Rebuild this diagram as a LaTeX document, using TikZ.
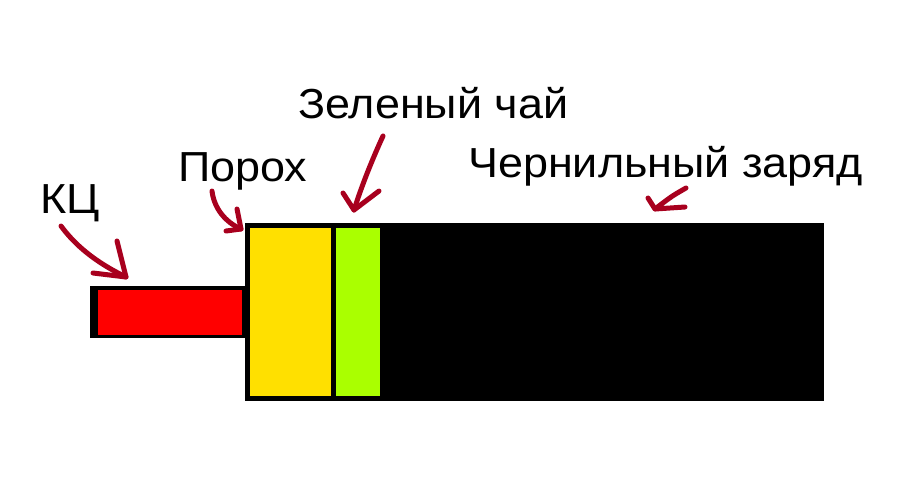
\documentclass[tikz,border=0pt]{standalone}
\usepackage{fontspec}
\setmainfont{Liberation Sans}[FakeStretch=1.07]
\definecolor{arrowred}{HTML}{A8001E}
\definecolor{rodred}{HTML}{FF0000}
\definecolor{powder}{HTML}{FFE000}
\definecolor{tea}{HTML}{AAFF00}
\begin{document}
\begin{tikzpicture}[x=1pt,y=-1pt,
  lbl/.style={anchor=base west,inner sep=0pt,font=\fontsize{42}{48}\selectfont},
  hand/.style={draw=arrowred,line width=5pt,line cap=round,line join=round}]
\useasboundingbox (0,0) rectangle (921,483);
% rod
\fill[black] (90,286) rectangle (247,338);
\fill[rodred] (98,290) rectangle (242,335);
% body
\fill[black] (245,223) rectangle (824,401);
\fill[powder] (250,228) rectangle (331,396);
\fill[tea] (336,228) rectangle (380,396);
% labels
\node[lbl] (kc) at (40,213) {КЦ};
\node[lbl] (porokh) at (178,181) {Порох};
\node[lbl] (tea) at (298,118) {Зеленый чай};
\node[lbl] (ink) at (468,177) {Чернильный заряд};
% hand-drawn arrows
\draw[hand] (61,226) .. controls (75,245) and (95,262) .. (126,277);
\draw[hand] (117,241) -- (126,277) -- (93,273);
\draw[hand] (212,191) .. controls (214,208) and (225,222) .. (241,229);
\draw[hand] (237,209) -- (241,229) -- (226,231);
\draw[hand] (383,136) .. controls (372,160) and (362,185) .. (354,210);
\draw[hand] (343,193) -- (354,210) -- (379,191);
\draw[hand] (686,188) .. controls (672,196) .. (655,209) -- (685,207);
\draw[hand] (648,198) -- (655,209);
\end{tikzpicture}
\end{document}
